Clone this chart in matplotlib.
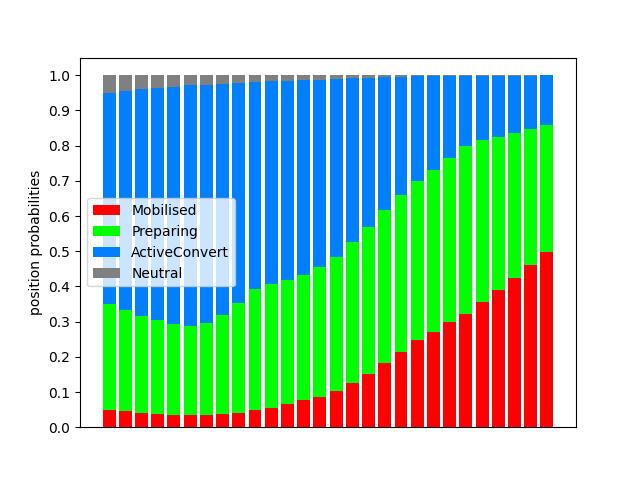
import numpy as np
import matplotlib
matplotlib.use("Agg")
import matplotlib.pyplot as plt

mobilised = [0.049, 0.046, 0.040, 0.0375, 0.035, 0.035, 0.035, 0.0375, 0.040, 0.049,
             0.0545, 0.066, 0.077, 0.086, 0.103, 0.126, 0.152, 0.182, 0.215, 0.249,
             0.271, 0.300, 0.322, 0.357, 0.391, 0.425, 0.461, 0.499]
preparing = [0.301, 0.287, 0.276, 0.2675, 0.258, 0.252, 0.261, 0.2815, 0.313, 0.344,
             0.3525, 0.352, 0.355, 0.369, 0.380, 0.401, 0.417, 0.436, 0.445, 0.451,
             0.461, 0.466, 0.478, 0.460, 0.433, 0.411, 0.386, 0.359]
active = [0.599, 0.622, 0.644, 0.659, 0.673, 0.685, 0.676, 0.657, 0.625, 0.589,
          0.576, 0.565, 0.555, 0.532, 0.506, 0.4645, 0.4225, 0.377, 0.335, 0.297,
          0.265, 0.231, 0.197, 0.180, 0.173, 0.161, 0.150, 0.142]
neutral = [0.051, 0.045, 0.040, 0.036, 0.034, 0.028, 0.028, 0.024, 0.022, 0.018,
           0.017, 0.017, 0.013, 0.013, 0.011, 0.0085, 0.0085, 0.005, 0.005, 0.003,
           0.003, 0.003, 0.003, 0.003, 0.003, 0.003, 0.003, 0.0]
labels = ["Mobilised", "Preparing", "ActiveConvert", "Neutral"]
colors = ["#ff0000", "#00ff00", "#0080ff", "#808080"]

fig, ax = plt.subplots(figsize=(6.4, 4.8), dpi=100)
x = np.arange(len(mobilised))
bottom = np.zeros(len(x))
for vals, lab, col in zip([mobilised, preparing, active, neutral], labels, colors):
    v = np.array(vals)
    ax.bar(x, v, bottom=bottom, color=col, label=lab, width=0.8)
    bottom += v

ax.set_xticks([])
ax.set_yticks(np.arange(0, 1.01, 0.1))
ax.set_ylim(0, 1.05)
ax.set_ylabel("position probabilities")
ax.legend(loc="center left")
fig.savefig("out.png")
